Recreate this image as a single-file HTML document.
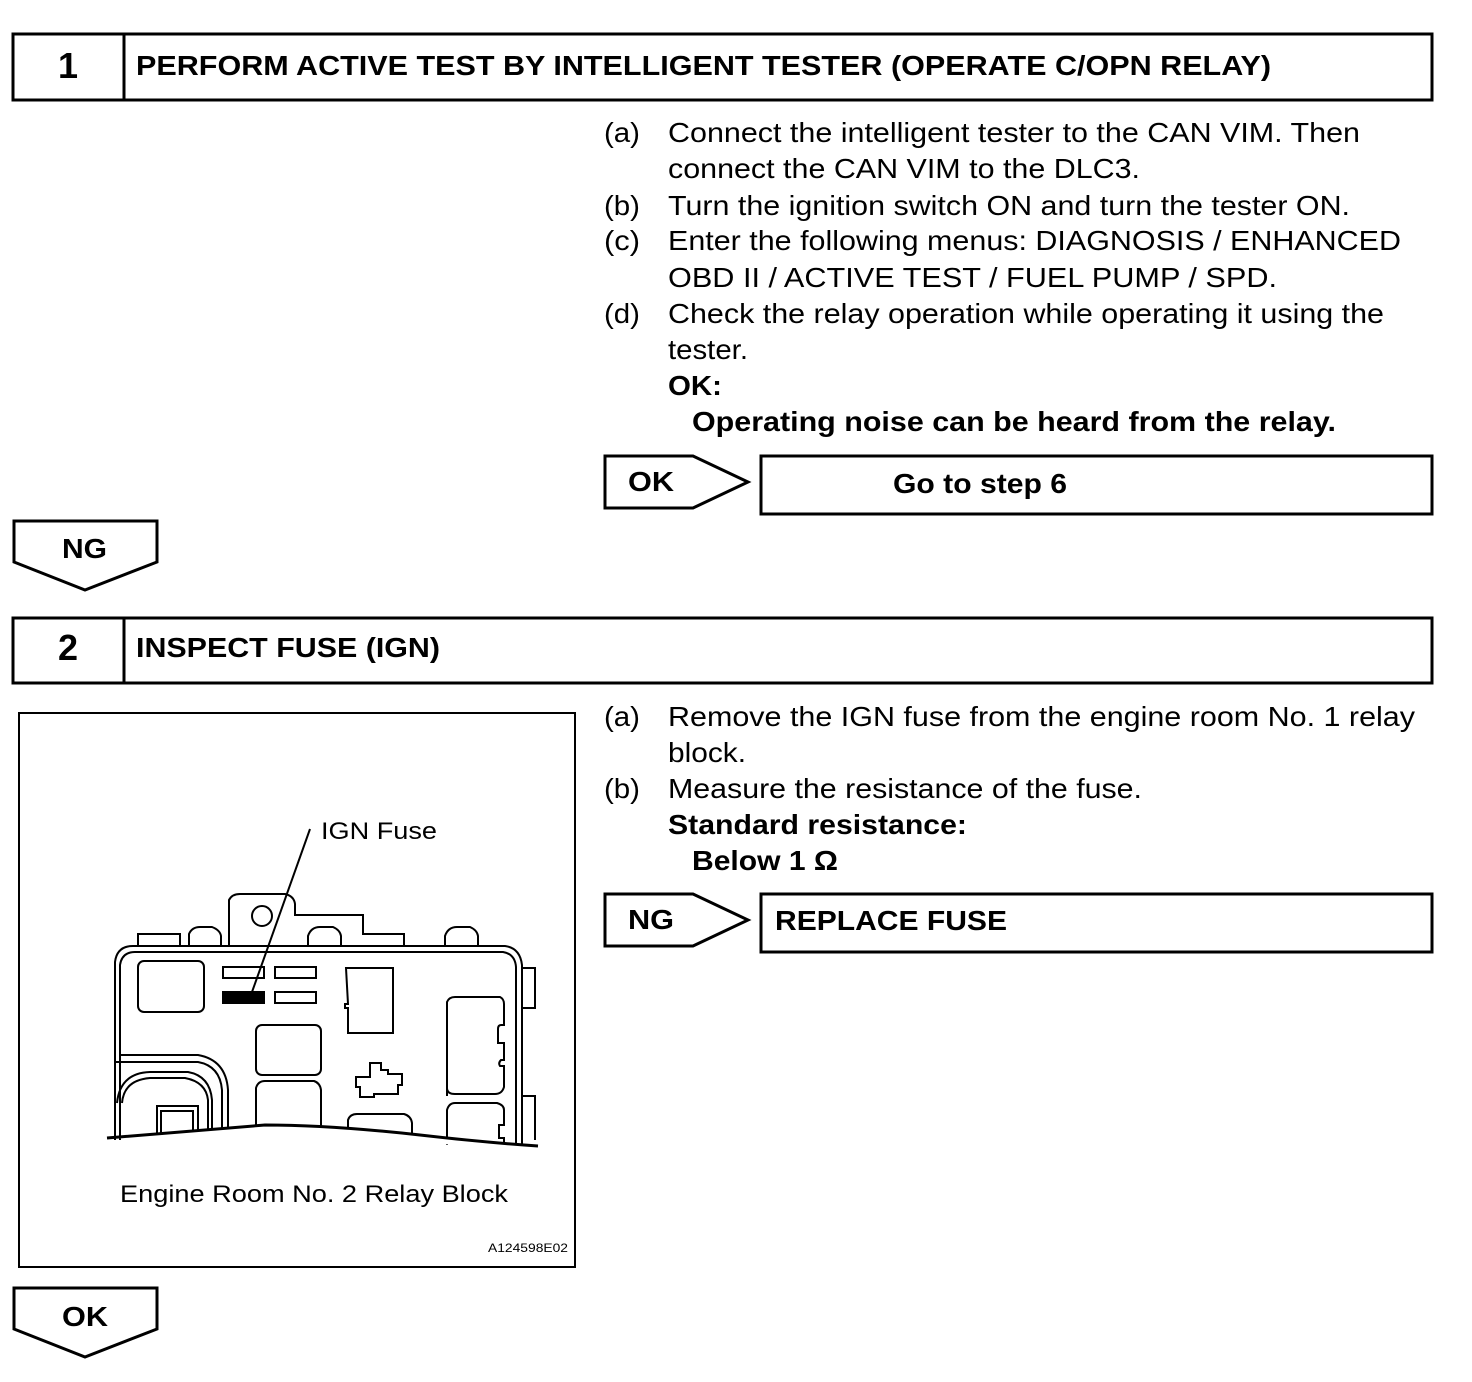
<!DOCTYPE html>
<html><head><meta charset="utf-8"><style>html,body{margin:0;padding:0;background:#fff}svg{display:block}</style></head>
<body>
<svg width="1472" height="1382" viewBox="0 0 1472 1382" xmlns="http://www.w3.org/2000/svg" font-family="Liberation Sans, Arial, sans-serif" fill="#000">
<g fill="none" stroke="#000" stroke-width="3">
<rect x="13" y="34" width="1419" height="66"/>
<line x1="124" y1="34" x2="124" y2="100"/>
<rect x="13" y="618" width="1419" height="65"/>
<line x1="124" y1="618" x2="124" y2="683"/>
<path d="M605 456 H693 L748 482 L693 508 H605 Z"/>
<rect x="761" y="456" width="671" height="58"/>
<path d="M14 521 H157 V562 L85 590 L14 562 Z"/>
<path d="M605 894 H693 L748 920 L693 946 H605 Z"/>
<rect x="761" y="894" width="671" height="58"/>
<path d="M14 1288 H157 V1329 L85 1357 L14 1329 Z"/>
<rect x="19" y="713" width="556" height="554" stroke-width="2"/>
</g>
<g font-weight="bold" font-size="28">
<text x="68" y="78" text-anchor="middle" font-size="36">1</text>
<text x="136" y="75" textLength="1135" lengthAdjust="spacingAndGlyphs">PERFORM ACTIVE TEST BY INTELLIGENT TESTER (OPERATE C/OPN RELAY)</text>
<text x="68" y="660" text-anchor="middle" font-size="36">2</text>
<text x="136" y="657" textLength="304" lengthAdjust="spacingAndGlyphs">INSPECT FUSE (IGN)</text>
<text x="628" y="491" textLength="46" lengthAdjust="spacingAndGlyphs">OK</text>
<text x="893" y="493" textLength="174" lengthAdjust="spacingAndGlyphs">Go to step 6</text>
<text x="62" y="558" textLength="45" lengthAdjust="spacingAndGlyphs">NG</text>
<text x="628" y="929" textLength="46" lengthAdjust="spacingAndGlyphs">NG</text>
<text x="775" y="930" textLength="232" lengthAdjust="spacingAndGlyphs">REPLACE FUSE</text>
<text x="62" y="1326" textLength="46" lengthAdjust="spacingAndGlyphs">OK</text>
<text x="668" y="395" textLength="54" lengthAdjust="spacingAndGlyphs">OK:</text>
<text x="692" y="431" textLength="644" lengthAdjust="spacingAndGlyphs">Operating noise can be heard from the relay.</text>
<text x="668" y="834" textLength="299" lengthAdjust="spacingAndGlyphs">Standard resistance:</text>
<text x="692" y="870" textLength="146" lengthAdjust="spacingAndGlyphs">Below 1 Ω</text>
</g>
<g font-size="28">
<text x="604" y="142" textLength="36" lengthAdjust="spacingAndGlyphs">(a)</text>
<text x="668" y="142" textLength="692" lengthAdjust="spacingAndGlyphs">Connect the intelligent tester to the CAN VIM. Then</text>
<text x="668" y="178" textLength="472" lengthAdjust="spacingAndGlyphs">connect the CAN VIM to the DLC3.</text>
<text x="604" y="215" textLength="36" lengthAdjust="spacingAndGlyphs">(b)</text>
<text x="668" y="215" textLength="682" lengthAdjust="spacingAndGlyphs">Turn the ignition switch ON and turn the tester ON.</text>
<text x="604" y="250" textLength="36" lengthAdjust="spacingAndGlyphs">(c)</text>
<text x="668" y="250" textLength="733" lengthAdjust="spacingAndGlyphs">Enter the following menus: DIAGNOSIS / ENHANCED</text>
<text x="668" y="287" textLength="609" lengthAdjust="spacingAndGlyphs">OBD II / ACTIVE TEST / FUEL PUMP / SPD.</text>
<text x="604" y="323" textLength="36" lengthAdjust="spacingAndGlyphs">(d)</text>
<text x="668" y="323" textLength="716" lengthAdjust="spacingAndGlyphs">Check the relay operation while operating it using the</text>
<text x="668" y="359" textLength="80" lengthAdjust="spacingAndGlyphs">tester.</text>
<text x="604" y="726" textLength="36" lengthAdjust="spacingAndGlyphs">(a)</text>
<text x="668" y="726" textLength="747" lengthAdjust="spacingAndGlyphs">Remove the IGN fuse from the engine room No. 1 relay</text>
<text x="668" y="762" textLength="78" lengthAdjust="spacingAndGlyphs">block.</text>
<text x="604" y="798" textLength="36" lengthAdjust="spacingAndGlyphs">(b)</text>
<text x="668" y="798" textLength="474" lengthAdjust="spacingAndGlyphs">Measure the resistance of the fuse.</text>
</g>
<g font-size="24">
<text x="321" y="839" textLength="116" lengthAdjust="spacingAndGlyphs">IGN Fuse</text>
<text x="120" y="1202" textLength="388" lengthAdjust="spacingAndGlyphs">Engine Room No. 2 Relay Block</text>
</g>
<text x="488" y="1252" font-size="12" textLength="80" lengthAdjust="spacingAndGlyphs">A124598E02</text>
<g fill="none" stroke="#000" stroke-width="2">
<line x1="310" y1="829" x2="252" y2="992"/>
<path d="M138 946 V934 H180 V946"/>
<path d="M189 946 V934 Q192 927 200 927 H212 Q220 930 221 936 V946"/>
<path d="M229 946 V900 Q232 894 240 894 H285 Q294 896 295 904 V915 H363 V934 H404 V946"/>
<circle cx="262" cy="916" r="10"/>
<path d="M308 946 V936 Q311 927 320 927 H333 Q340 930 341 936 V946"/>
<path d="M445 946 V936 Q448 927 457 927 H470 Q477 930 478 936 V946"/>
<path d="M115 1140 V962 Q117 946 133 946 H505 Q520 948 522 965 V1145"/>
<path d="M120 1140 V965 Q122 952 135 952 H503 Q515 954 516 967 V1145"/>
<path d="M522 968 H535 V1008 H522"/>
<path d="M522 1096 H535 V1140"/>
<path d="M120 1055 H198 Q226 1060 228 1090 V1134"/>
<path d="M116 1062 H198 Q220 1066 222 1090 V1134"/>
<path d="M117 1103 Q120 1073 150 1072 H188 Q210 1076 212 1100 V1134"/>
<path d="M122 1103 Q124 1080 150 1078 H185 Q206 1082 208 1100 V1134"/>
<path d="M157 1136 V1106 H198 V1132"/>
<path d="M161 1136 V1111 H193 V1132"/>
<rect x="138" y="961" width="66" height="51" rx="6"/>
<rect x="223" y="967" width="41" height="11"/>
<rect x="275" y="967" width="41" height="11"/>
<rect x="223" y="992" width="41" height="11" fill="#000"/>
<rect x="275" y="992" width="41" height="11"/>
<path d="M346 968 H393 V1033 H348 V1008 H345 V1004 H348 Z"/>
<rect x="256" y="1025" width="65" height="50" rx="6"/>
<path d="M256 1131 V1088 Q258 1081 265 1081 H314 Q320 1083 321 1090 V1127"/>
<path d="M356 1077 H370 V1063 H381 V1070 H388 V1074 H402 V1085 H398 V1094 H374 V1097 H360 V1087 H356 Z"/>
<path d="M348 1135 V1120 Q350 1114 357 1114 H404 Q411 1116 412 1123 V1140"/>
<path d="M447 1096 V1002 Q449 997 455 997 H500 Q504 999 504 1004 V1025 H501 Q498 1025 498 1029 V1043 H504 V1060 H501 Q498 1063 500 1066 H504 V1087 Q502 1094 495 1094 H455 Q447 1094 447 1088"/>
<path d="M447 1145 V1110 Q449 1103 455 1103 H497 Q504 1105 504 1110 V1125 H499 V1138 H504 V1145"/>
<path d="M107 1138 Q180 1132 265 1125 Q330 1125 420 1135 Q480 1142 538 1146" stroke-width="3" fill="#fff"/>
</g>
</svg>
</body></html>
